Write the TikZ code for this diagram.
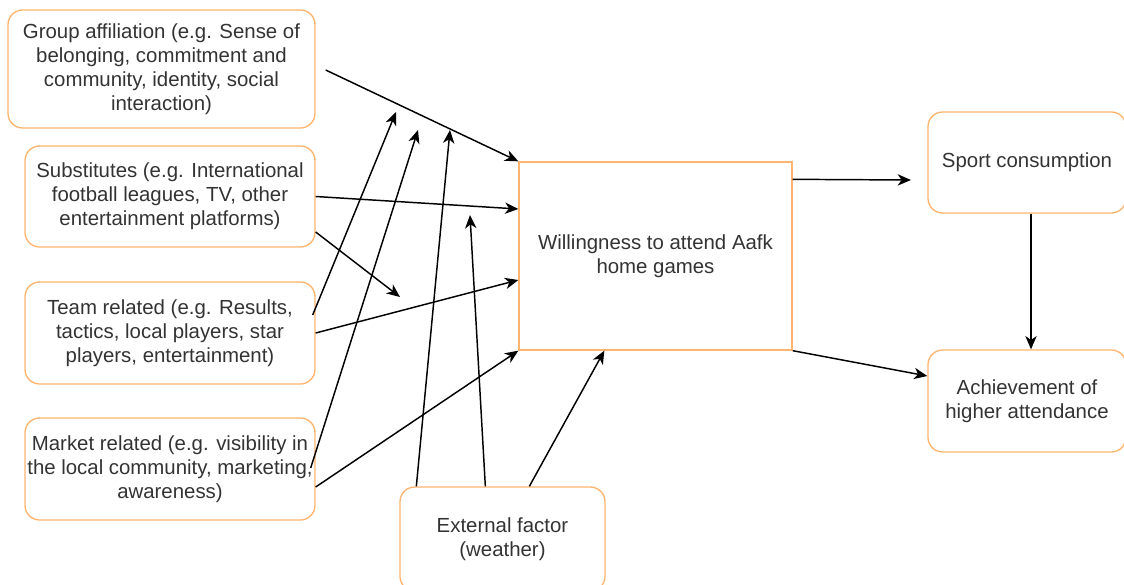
\documentclass[tikz,border=0pt]{standalone}
\usepackage{fontspec}
\setmainfont{Liberation Sans}
\usetikzlibrary{calc,arrows.meta}
\definecolor{boxorange}{HTML}{FFB570}
\definecolor{txtgray}{HTML}{333333}
\tikzset{
  rbox/.style={draw=boxorange, line width=1pt, rounded corners=11pt, align=center,
    text=txtgray, font=\fontsize{15.3}{18}\selectfont, inner sep=0pt},
  sbox/.style={draw=boxorange, line width=1pt, align=center,
    text=txtgray, font=\fontsize{15.3}{18}\selectfont, inner sep=0pt},
  conn/.style={draw=black, line width=1.1pt, -{Stealth[length=10pt,width=8.5pt,inset=3pt]}}
}
\begin{document}
\begin{tikzpicture}[x=0.75pt,y=-0.75pt]
\useasboundingbox (0,0) rectangle (1124,585);
\clip (0,0) rectangle (1124,585);
\node[rbox, minimum width=230.25pt, minimum height=88.5pt] (grp) at (161.5,69)
  {Group affiliation (e.g. Sense of\\belonging, commitment and\\community, identity, social\\interaction)};
\node[rbox, minimum width=217.5pt, minimum height=75.75pt] (sub) at (170,196.5)
  {Substitutes (e.g. International\\football leagues, TV, other\\entertainment platforms)};
\node[rbox, minimum width=217.5pt, minimum height=76.5pt] (team) at (170,333)
  {Team related (e.g. Results,\\tactics, local players, star\\players, entertainment)};
\node[rbox, minimum width=217.5pt, minimum height=76.5pt] (mkt) at (170,469)
  {Market related (e.g. visibility in\\the local community, marketing,\\awareness)};
\node[rbox, minimum width=153.75pt, minimum height=78pt] (ext) at (502.5,539)
  {External factor\\(weather)};
\node[sbox, minimum width=204.75pt, minimum height=141pt] (will) at (655.5,256)
  {Willingness to attend Aafk\\home games};
\node[rbox, minimum width=148.5pt, minimum height=75.75pt] (sport) at (1027,162.5)
  {Sport consumption};
\node[rbox, minimum width=148.5pt, minimum height=76.5pt] (ach) at (1027,401)
  {Achievement of\\higher attendance};

\coordinate (c1) at (400,297);
\coordinate (c2) at (396,112);
\coordinate (c3) at (418,130);
\coordinate (c4) at (450,130);
\coordinate (c5) at (470,215);
\coordinate (c6) at (911,180);

\draw[conn] ($(grp.east)+(10,1)$) -- (will.north west);
\draw[conn] (sub.east) -- ($(will.west)+(0,-47)$);
\draw[conn] ($(sub.east)+(0,35.5)$) -- (c1);
\draw[conn] (team.east) -- ($(will.west)+(0,24)$);
\draw[conn] ($(team.east)+(-3,-18)$) -- (c2);
\draw[conn] ($(mkt.east)+(-5,-1)$) -- (c3);
\draw[conn] ($(mkt.east)+(0,18)$) -- (will.south west);
\draw[conn] ($(ext.north west)+(17,0)$) -- (c4);
\draw[conn] ($(ext.north west)+(86,0)$) -- (c5);
\draw[conn] ($(ext.north west)+(130,0)$) -- ($(will.south west)+(86,0)$);
\draw[conn] ($(will.north east)+(0,18)$) -- (c6);
\draw[conn] ($(sport.south)+(4,0)$) -- ($(ach.north)+(4,0)$);
\draw[conn] (will.south east) -- ($(ach.west)+(0,-25)$);
\end{tikzpicture}
\end{document}
